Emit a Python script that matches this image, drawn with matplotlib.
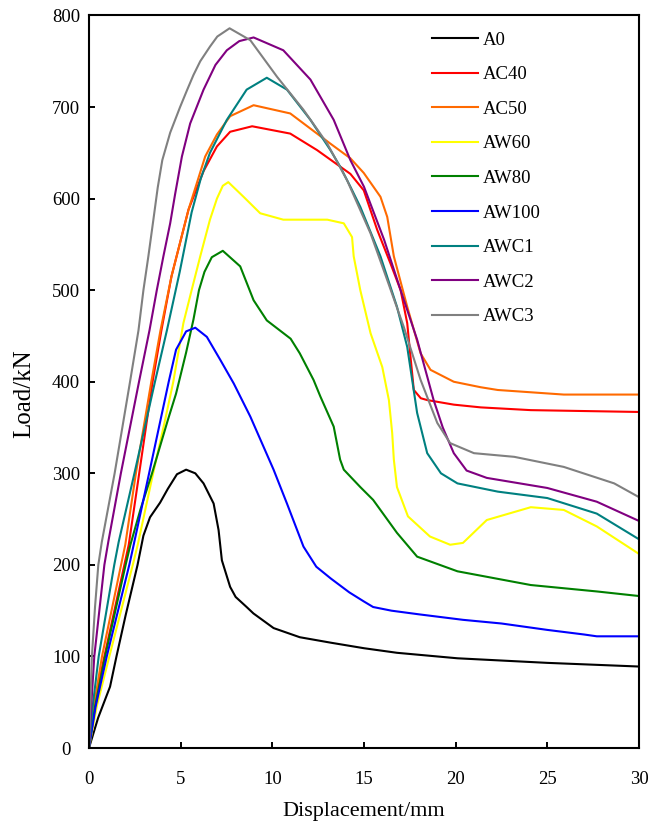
import matplotlib
matplotlib.use('Agg')
import matplotlib.pyplot as plt

plt.rcParams['font.family'] = ['Liberation Serif', 'DejaVu Serif']

labels = ['A0', 'AC40', 'AC50', 'AW60', 'AW80', 'AW100', 'AWC1', 'AWC2', 'AWC3']
colors = ['#000000', '#ff0000', '#ff6a00', '#ffff00', '#008000', '#0000ff', '#008080', '#800080', '#808080']

# load-displacement curves (mm, kN)
a0_x = [0, 0.5, 1.15, 1.5, 2.0, 2.65, 2.97, 3.33, 3.88, 4.3, 4.8, 5.3, 5.8, 6.25, 6.8, 7.07, 7.25, 7.7, 8.0, 8.6, 8.97, 10.07, 11.5, 13.2, 15.0, 16.8, 20.1, 25.0, 30.0]
a0_y = [0, 33, 67, 100, 145, 200, 232, 252, 268, 283, 299, 304, 300, 289, 267, 238, 205, 176, 165, 154, 147, 131, 121, 115, 109, 104, 98, 93, 89]

ac40_x = [0, 0.3, 0.84, 1.93, 2.17, 2.74, 3.47, 3.95, 4.5, 5.43, 6.25, 6.98, 7.7, 8.9, 10.98, 12.44, 14.26, 14.99, 15.72, 16.45, 17.0, 17.36, 17.54, 17.72, 18.1, 18.45, 19.9, 21.37, 24.1, 30.0]
ac40_y = [0, 50, 100, 200, 222, 300, 400, 456, 515, 588, 630, 657, 673, 679, 671, 653, 627, 609, 566, 529, 500, 464, 427, 391, 382, 380, 375, 372, 369, 367]

ac50_x = [0, 0.27, 0.71, 1.75, 1.98, 2.56, 3.4, 3.9, 4.5, 5.43, 6.34, 6.98, 7.7, 8.98, 10.98, 12.44, 13.17, 14.26, 14.99, 15.9, 16.27, 16.63, 17.36, 18.09, 18.63, 19.9, 21.37, 22.3, 25.9, 30.0]
ac50_y = [0, 45, 100, 200, 222, 300, 400, 456, 515, 588, 646, 670, 690, 702, 693, 671, 660, 644, 628, 602, 580, 537, 482, 431, 413, 400, 394, 391, 386, 386]

aw60_x = [0, 0.42, 1.11, 2.39, 2.66, 3.5, 4.15, 4.6, 5.15, 5.6, 6.07, 6.6, 6.98, 7.3, 7.6, 8.43, 9.34, 10.6, 13.0, 13.9, 14.35, 14.44, 14.8, 15.36, 16.0, 16.36, 16.54, 16.63, 16.8, 17.4, 18.6, 19.7, 20.4, 21.7, 24.1, 25.9, 27.7, 30.0]
aw60_y = [0, 45, 100, 200, 222, 300, 358, 400, 464, 500, 537, 577, 600, 614, 618, 602, 584, 577, 577, 573, 558, 537, 500, 453, 416, 380, 344, 315, 285, 253, 231, 222, 224, 249, 263, 260, 242, 212]

aw80_x = [0, 0.33, 0.88, 2.0, 2.26, 2.8, 3.44, 4.3, 4.75, 4.97, 5.3, 5.7, 6.0, 6.3, 6.7, 7.3, 8.25, 8.98, 9.7, 11.0, 11.5, 12.25, 12.62, 13.35, 13.7, 13.9, 14.8, 15.5, 16.8, 17.9, 20.1, 24.1, 27.7, 30.0]
aw80_y = [0, 45, 100, 200, 222, 260, 300, 358, 387, 405, 432, 468, 500, 520, 536, 543, 526, 489, 467, 447, 431, 402, 384, 351, 315, 304, 285, 271, 235, 209, 193, 178, 171, 166]

aw100_x = [0, 0.36, 0.97, 2.2, 2.44, 3.28, 4.35, 4.75, 5.3, 5.8, 6.43, 7.16, 7.9, 8.8, 10.07, 10.8, 11.7, 12.4, 13.2, 14.2, 15.0, 15.5, 16.5, 18.0, 20.4, 22.5, 25.0, 27.0, 27.7, 30.0]
aw100_y = [0, 45, 100, 200, 222, 300, 400, 435, 455, 459, 449, 424, 398, 362, 304, 267, 220, 198, 185, 170, 160, 154, 150, 146, 140, 136, 129, 124, 122, 122]

awc1_x = [0, 0.2, 0.53, 1.38, 1.62, 2.48, 3.6, 4.25, 4.95, 5.6, 6.1, 6.6, 7.52, 8.6, 9.7, 10.8, 12.08, 13.17, 13.7, 14.26, 14.8, 15.9, 16.8, 17.36, 17.63, 17.9, 18.45, 19.2, 20.1, 22.3, 25.0, 27.7, 30.0]
awc1_y = [0, 45, 100, 200, 225, 300, 400, 456, 520, 585, 622, 650, 686, 719, 732, 719, 686, 653, 635, 613, 591, 537, 482, 438, 402, 366, 322, 300, 289, 280, 273, 256, 228]

awc2_x = [0, 0.12, 0.29, 0.84, 1.07, 1.74, 2.73, 3.3, 3.7, 4.06, 4.43, 4.7, 5.07, 5.52, 6.25, 6.9, 7.52, 8.2, 8.98, 10.6, 12.08, 13.35, 14.26, 15.0, 16.1, 17.0, 17.9, 18.8, 19.3, 19.9, 20.6, 21.7, 25.0, 27.7, 30.0]
awc2_y = [0, 45, 100, 200, 227, 300, 400, 456, 500, 537, 573, 605, 646, 682, 719, 746, 762, 772, 776, 762, 730, 686, 642, 613, 555, 500, 446, 380, 350, 322, 303, 295, 284, 269, 248]

awc3_x = [0, 0.07, 0.16, 0.33, 0.51, 0.7, 1.4, 2.24, 2.7, 2.97, 3.24, 3.5, 3.75, 4.0, 4.43, 4.97, 5.34, 5.7, 6.07, 6.6, 7.0, 7.67, 8.8, 10.26, 11.7, 13.0, 14.08, 15.36, 16.27, 17.17, 18.09, 19.0, 19.7, 21.0, 23.2, 25.9, 28.65, 30.0]
awc3_y = [0, 45, 100, 154, 200, 225, 300, 400, 456, 500, 537, 575, 612, 642, 672, 700, 718, 735, 750, 766, 777, 786, 773, 733, 697, 660, 620, 562, 511, 460, 402, 355, 333, 322, 318, 307, 289, 274]

series_x = [a0_x, ac40_x, ac50_x, aw60_x, aw80_x, aw100_x, awc1_x, awc2_x, awc3_x]
series_y = [a0_y, ac40_y, ac50_y, aw60_y, aw80_y, aw100_y, awc1_y, awc2_y, awc3_y]

fig = plt.figure(figsize=(6.6, 8.23), dpi=100)
ax = fig.add_axes([0.1348, 0.0911, 0.8333, 0.8901])

for xs, ys, lab, c in zip(series_x, series_y, labels, colors):
    ax.plot(xs, ys, color=c, lw=1.5, label=lab)

ax.set_xlim(0, 30)
ax.set_ylim(0, 800)
ax.set_xticks([0, 5, 10, 15, 20, 25, 30])
ax.set_yticks([0, 100, 200, 300, 400, 500, 600, 700, 800])
ax.tick_params(direction='in', length=4.5, width=1.4, labelsize=13.5, pad=16.5,
               top=False, right=False)
for lab in ax.get_yticklabels():
    lab.set_horizontalalignment('center')
for s in ax.spines.values():
    s.set_linewidth(1.5)

ax.set_xlabel('Displacement/mm', fontsize=16)
ax.set_ylabel('Load/kN', fontsize=18)
ax.xaxis.set_label_coords(0.5, -0.087)
ax.xaxis.label.set_va('center')
ax.yaxis.set_label_coords(-0.1173, 0.4833)
ax.yaxis.label.set_va('center')

ax.legend(loc='upper left', bbox_to_anchor=(0.623, 0.978), frameon=False,
          fontsize=13.5, handlelength=2.5, handletextpad=0.25,
          labelspacing=0.93, borderpad=0, borderaxespad=0)

fig.savefig('out.png', dpi=100)
